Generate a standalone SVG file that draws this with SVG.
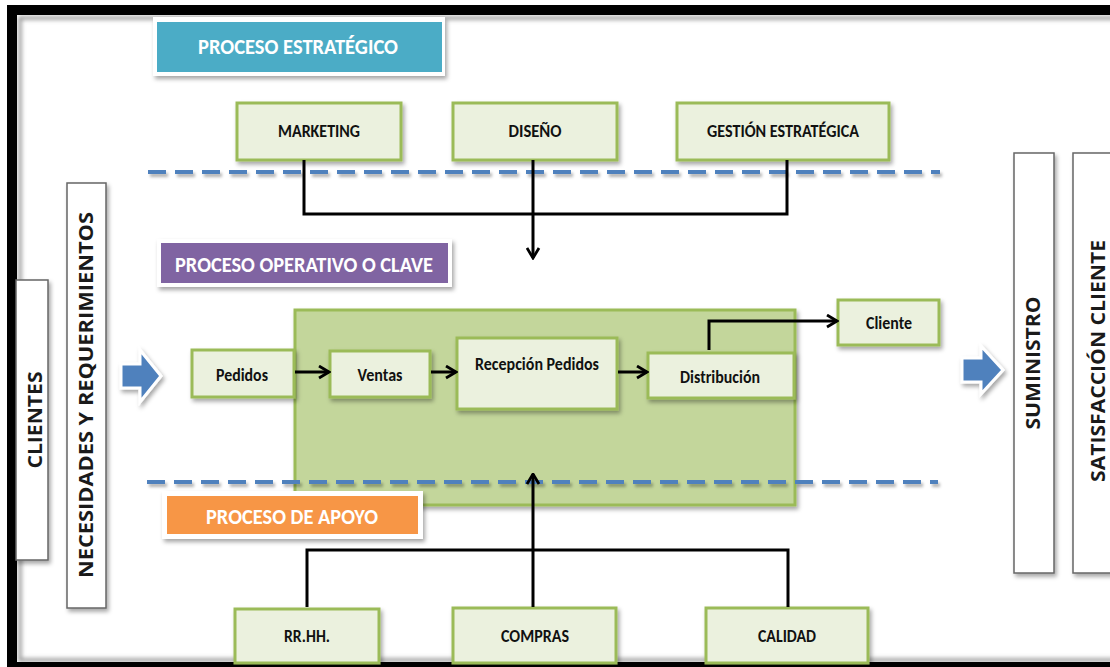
<svg xmlns="http://www.w3.org/2000/svg" width="1110" height="667" viewBox="0 0 1110 667">
  <defs>
    <filter id="shadow" x="-20%" y="-20%" width="140%" height="150%">
      <feDropShadow dx="2" dy="3" stdDeviation="2" flood-color="#000" flood-opacity="0.35"/>
    </filter>
    <filter id="lineshadow" filterUnits="userSpaceOnUse" x="0" y="0" width="1110" height="667">
      <feDropShadow dx="2" dy="3" stdDeviation="1.5" flood-color="#000" flood-opacity="0.3"/>
    </filter>
    <filter id="soft" x="-5%" y="-5%" width="110%" height="110%">
      <feGaussianBlur stdDeviation="2"/>
    </filter>
    <marker id="arrow" viewBox="0 0 13 15" refX="11.5" refY="7.5" markerWidth="13" markerHeight="15" markerUnits="userSpaceOnUse" orient="auto">
      <path d="M1.5,1.5 L11.5,7.5 L1.5,13.5" fill="none" stroke="#000" stroke-width="2.8"/>
    </marker>
    <style>
      .box { fill: #EBF1DE; stroke: #9BBB59; stroke-width: 3; filter: url(#shadow); }
      .lbl { font-family: Carlito, Lato, "Liberation Sans", sans-serif; font-weight: bold; font-size: 17px; fill: #111; text-anchor: middle; }
      .hdr { font-family: Carlito, Lato, "Liberation Sans", sans-serif; font-weight: bold; font-size: 23px; fill: #fff; text-anchor: middle; }
      .side { fill: #fff; stroke: #666; stroke-width: 1.5; filter: url(#shadow); }
      .vlbl { font-family: "Open Sans", "DejaVu Sans", sans-serif; font-weight: bold; font-size: 19px; fill: #1a1a1a; text-anchor: middle; }
      .dash { fill: none; stroke: #4F81BD; stroke-width: 4; stroke-dasharray: 18 9; filter: url(#lineshadow); }
      .link { fill: none; stroke: #000; stroke-width: 3; }
      .barrow { fill: #4F81BD; stroke: #fff; stroke-width: 3; stroke-linejoin: miter; filter: url(#shadow); }
    </style>
  </defs>

  <rect width="1110" height="667" fill="#fff"/>

  <!-- frame with inner shading -->
  <rect x="20" y="18" width="1110" height="642" fill="none" stroke="#888" stroke-width="3" filter="url(#soft)"/>
  <rect x="12" y="10" width="1120" height="657" fill="none" stroke="#000" stroke-width="10"/>

  <!-- dashed separator, strategic / operational -->
  <g id="separator-top">
    <line class="dash" x1="148" y1="172" x2="940" y2="172"/>
  </g>

  <!-- operational area -->
  <g id="operativo-area">
    <rect x="295" y="310" width="500" height="195" fill="#C3D69B" stroke="#9BBB59" stroke-width="3" filter="url(#shadow)"/>
  </g>

  <!-- dashed separator, operational / support -->
  <g id="separator-bottom">
    <line class="dash" x1="147" y1="482" x2="938" y2="482"/>
  </g>

  <!-- section headers -->
  <g id="hdr-estrategico">
    <rect x="153" y="17" width="292" height="59" fill="#fff" filter="url(#shadow)"/>
    <rect x="157" y="22" width="285" height="50" fill="#4BACC6"/>
    <text class="hdr" x="298" y="54" textLength="200" lengthAdjust="spacingAndGlyphs">PROCESO ESTRATÉGICO</text>
  </g>
  <g id="hdr-operativo">
    <rect x="157" y="239" width="295" height="48" fill="#fff" filter="url(#shadow)"/>
    <rect x="161" y="243" width="287" height="40" fill="#8064A2"/>
    <text class="hdr" x="304" y="272" textLength="258" lengthAdjust="spacingAndGlyphs">PROCESO OPERATIVO O CLAVE</text>
  </g>
  <g id="hdr-apoyo">
    <rect x="162" y="491" width="261" height="48" fill="#fff" filter="url(#shadow)"/>
    <rect x="167" y="496" width="251" height="38" fill="#F79646"/>
    <text class="hdr" x="292" y="524" textLength="172" lengthAdjust="spacingAndGlyphs">PROCESO DE APOYO</text>
  </g>

  <!-- side columns -->
  <g id="clientes">
    <rect class="side" x="16" y="280" width="32" height="280"/>
    <text class="vlbl" transform="translate(42,420) rotate(-90)" textLength="97" lengthAdjust="spacingAndGlyphs">CLIENTES</text>
  </g>
  <g id="necesidades">
    <rect class="side" x="67" y="183" width="39" height="425"/>
    <text class="vlbl" transform="translate(93,395) rotate(-90)" textLength="366" lengthAdjust="spacingAndGlyphs">NECESIDADES Y REQUERIMIENTOS</text>
  </g>
  <g id="suministro">
    <rect class="side" x="1014" y="153" width="40" height="420"/>
    <text class="vlbl" transform="translate(1040,363) rotate(-90)" textLength="133" lengthAdjust="spacingAndGlyphs">SUMINISTRO</text>
  </g>
  <g id="satisfaccion">
    <rect class="side" x="1073" y="153" width="50" height="420"/>
    <text class="vlbl" transform="translate(1105,361) rotate(-90)" textLength="242" lengthAdjust="spacingAndGlyphs">SATISFACCIÓN CLIENTE</text>
  </g>

  <!-- block arrows -->
  <g id="flecha-entrada">
    <path class="barrow" d="M121,364 L140,364 L140,350 L161,376 L140,402 L140,388 L121,388 Z"/>
  </g>
  <g id="flecha-salida">
    <path class="barrow" d="M962,358 L981,358 L981,346 L1003,370 L981,394 L981,382 L962,382 Z"/>
  </g>

  <!-- strategic processes -->
  <g id="marketing">
    <rect class="box" x="237" y="103" width="164" height="57"/>
    <text class="lbl" x="319" y="137" textLength="82" lengthAdjust="spacingAndGlyphs">MARKETING</text>
  </g>
  <g id="diseno">
    <rect class="box" x="453" y="103" width="164" height="57"/>
    <text class="lbl" x="535" y="137" textLength="53" lengthAdjust="spacingAndGlyphs">DISEÑO</text>
  </g>
  <g id="gestion">
    <rect class="box" x="677" y="103" width="212" height="57"/>
    <text class="lbl" x="783" y="137" textLength="152" lengthAdjust="spacingAndGlyphs">GESTIÓN ESTRATÉGICA</text>
  </g>

  <!-- operational processes -->
  <g id="pedidos">
    <rect class="box" x="192" y="350" width="102" height="47"/>
    <text class="lbl" x="242" y="381" textLength="52" lengthAdjust="spacingAndGlyphs">Pedidos</text>
  </g>
  <g id="ventas">
    <rect class="box" x="330" y="351" width="100" height="46"/>
    <text class="lbl" x="380" y="381" textLength="45" lengthAdjust="spacingAndGlyphs">Ventas</text>
  </g>
  <g id="recepcion">
    <rect class="box" x="457" y="338" width="160" height="71"/>
    <text class="lbl" x="537" y="370" textLength="124" lengthAdjust="spacingAndGlyphs">Recepción Pedidos</text>
  </g>
  <g id="distribucion">
    <rect class="box" x="648" y="353" width="146" height="45"/>
    <text class="lbl" x="720" y="383" textLength="80" lengthAdjust="spacingAndGlyphs">Distribución</text>
  </g>
  <g id="cliente">
    <rect class="box" x="838" y="300" width="101" height="45"/>
    <text class="lbl" x="889" y="329" textLength="46" lengthAdjust="spacingAndGlyphs">Cliente</text>
  </g>

  <!-- support processes -->
  <g id="rrhh">
    <rect class="box" x="235" y="609" width="144" height="54"/>
    <text class="lbl" x="307" y="642" textLength="46" lengthAdjust="spacingAndGlyphs">RR.HH.</text>
  </g>
  <g id="compras">
    <rect class="box" x="453" y="608" width="163" height="55"/>
    <text class="lbl" x="535" y="642" textLength="68" lengthAdjust="spacingAndGlyphs">COMPRAS</text>
  </g>
  <g id="calidad">
    <rect class="box" x="706" y="608" width="162" height="55"/>
    <text class="lbl" x="787" y="642" textLength="58" lengthAdjust="spacingAndGlyphs">CALIDAD</text>
  </g>

  <!-- connectors -->
  <g id="connectors">
    <path class="link" d="M304,160 V214 H787 V160"/>
    <line class="link" x1="533" y1="160" x2="533" y2="258" marker-end="url(#arrow)"/>
    <line class="link" x1="295" y1="372" x2="329" y2="372" marker-end="url(#arrow)"/>
    <line class="link" x1="431" y1="372" x2="456" y2="372" marker-end="url(#arrow)"/>
    <line class="link" x1="618" y1="372" x2="647" y2="372" marker-end="url(#arrow)"/>
    <path class="link" d="M709,350 V321 H837" marker-end="url(#arrow)"/>
    <path class="link" d="M307,607 V550 H788 V607"/>
    <line class="link" x1="533" y1="607" x2="533" y2="474" marker-end="url(#arrow)"/>
  </g>
</svg>
